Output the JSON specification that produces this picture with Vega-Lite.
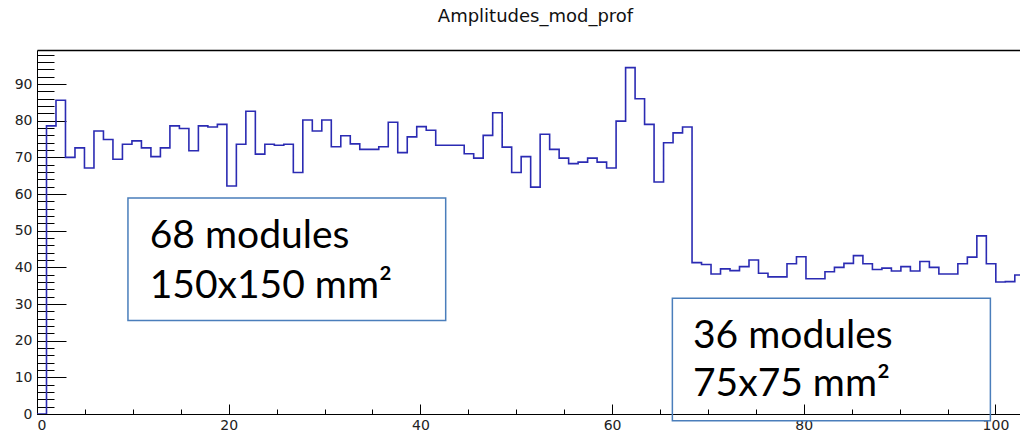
{
  "$schema": "https://vega.github.io/schema/vega-lite/v6.json",
  "width": 983,
  "height": 364,
  "autosize": {"type": "none"},
  "padding": {"left": 37, "top": 50, "right": 0, "bottom": 19},
  "background": "white",
  "config": {
    "view": {"stroke": null},
    "axis": {"grid": false, "title": null, "labelFont": "DejaVu Sans", "labelFontSize": 14, "labelColor": "#222", "domainColor": "#000", "tickColor": "#000"}
  },
  "title": {"text": "Amplitudes_mod_prof", "font": "DejaVu Sans", "fontSize": 18, "fontWeight": "normal", "color": "#111", "offset": 24, "dx": 7},
  "datasets": {
    "hist": [
      {"x": 0, "v": 0}, {"x": 0.9905, "v": 78.6}, {"x": 1.981, "v": 85.6}, {"x": 2.971, "v": 70.0}, {"x": 3.962, "v": 72.6},
      {"x": 4.952, "v": 67.1}, {"x": 5.943, "v": 77.2}, {"x": 6.933, "v": 74.9}, {"x": 7.924, "v": 69.5}, {"x": 8.914, "v": 73.6},
      {"x": 9.905, "v": 74.5}, {"x": 10.895, "v": 72.6}, {"x": 11.886, "v": 70.2}, {"x": 12.876, "v": 72.6}, {"x": 13.867, "v": 78.6},
      {"x": 14.857, "v": 77.9}, {"x": 15.848, "v": 71.8}, {"x": 16.838, "v": 78.6}, {"x": 17.829, "v": 78.3}, {"x": 18.819, "v": 79.0},
      {"x": 19.810, "v": 62.2}, {"x": 20.800, "v": 73.6}, {"x": 21.790, "v": 82.6}, {"x": 22.781, "v": 70.9}, {"x": 23.771, "v": 73.6},
      {"x": 24.762, "v": 73.3}, {"x": 25.752, "v": 73.6}, {"x": 26.743, "v": 65.9}, {"x": 27.733, "v": 80.2}, {"x": 28.724, "v": 77.2},
      {"x": 29.714, "v": 80.2}, {"x": 30.705, "v": 72.9}, {"x": 31.695, "v": 75.9}, {"x": 32.686, "v": 73.7}, {"x": 33.676, "v": 72.2},
      {"x": 34.667, "v": 72.2}, {"x": 35.657, "v": 72.9}, {"x": 36.648, "v": 79.6}, {"x": 37.638, "v": 71.3}, {"x": 38.629, "v": 75.6},
      {"x": 39.619, "v": 78.4}, {"x": 40.610, "v": 77.4}, {"x": 41.600, "v": 73.3}, {"x": 42.590, "v": 73.3}, {"x": 43.581, "v": 73.3},
      {"x": 44.571, "v": 71.0}, {"x": 45.562, "v": 69.8}, {"x": 46.552, "v": 76.0}, {"x": 47.543, "v": 82.2}, {"x": 48.533, "v": 72.8},
      {"x": 49.524, "v": 65.9}, {"x": 50.514, "v": 70.2}, {"x": 51.505, "v": 61.9}, {"x": 52.495, "v": 76.3}, {"x": 53.486, "v": 72.2},
      {"x": 54.476, "v": 69.8}, {"x": 55.467, "v": 68.3}, {"x": 56.457, "v": 68.7}, {"x": 57.448, "v": 69.8}, {"x": 58.438, "v": 68.7},
      {"x": 59.429, "v": 67.1}, {"x": 60.419, "v": 79.9}, {"x": 61.410, "v": 94.5}, {"x": 62.400, "v": 86.0}, {"x": 63.390, "v": 79.0},
      {"x": 64.381, "v": 63.3}, {"x": 65.371, "v": 74.0}, {"x": 66.362, "v": 76.7}, {"x": 67.352, "v": 78.3}, {"x": 68.343, "v": 41.3},
      {"x": 69.333, "v": 40.8}, {"x": 70.324, "v": 38.2}, {"x": 71.314, "v": 39.6}, {"x": 72.305, "v": 39.1}, {"x": 73.295, "v": 40.2},
      {"x": 74.286, "v": 42.0}, {"x": 75.276, "v": 38.4}, {"x": 76.267, "v": 37.4}, {"x": 77.257, "v": 37.4}, {"x": 78.248, "v": 41.0},
      {"x": 79.238, "v": 42.9}, {"x": 80.229, "v": 36.9}, {"x": 81.219, "v": 36.9}, {"x": 82.210, "v": 38.8}, {"x": 83.200, "v": 40.0},
      {"x": 84.190, "v": 41.1}, {"x": 85.181, "v": 43.2}, {"x": 86.171, "v": 41.0}, {"x": 87.162, "v": 39.4}, {"x": 88.152, "v": 39.8},
      {"x": 89.143, "v": 39.0}, {"x": 90.133, "v": 40.2}, {"x": 91.124, "v": 39.0}, {"x": 92.114, "v": 41.6}, {"x": 93.105, "v": 40.0},
      {"x": 94.095, "v": 38.2}, {"x": 95.086, "v": 38.2}, {"x": 96.076, "v": 41.0}, {"x": 97.067, "v": 42.8}, {"x": 98.057, "v": 48.6},
      {"x": 99.048, "v": 41.0}, {"x": 100.038, "v": 36.0}, {"x": 101.029, "v": 36.1}, {"x": 102.019, "v": 37.9}, {"x": 103.010, "v": 37.9}
    ],
    "boxes": [
      {"x": 9.49, "x2": 42.64, "y": 58.94, "y2": 25.5},
      {"x": 66.29, "x2": 99.47, "y": 31.6, "y2": -1.83}
    ],
    "notes": [
      {"x": 11.76, "y": 45.3, "t": "68 modules"},
      {"x": 11.76, "y": 31.7, "t": "150x150 mm²"},
      {"x": 68.44, "y": 18.0, "t": "36 modules"},
      {"x": 68.44, "y": 4.8, "t": "75x75 mm²"}
    ]
  },
  "layer": [
    {
      "data": {"name": "hist"},
      "mark": {"type": "line", "interpolate": "step-after", "color": "#2b2bb3", "strokeWidth": 1.6, "clip": true},
      "encoding": {
        "x": {"field": "x", "type": "quantitative", "scale": {"domain": [0, 102.56], "nice": false, "zero": false},
              "axis": {"orient": "bottom", "values": [0, 20, 40, 60, 80, 100], "ticks": false, "labelPadding": 4, "labelFontSize": 14, "domain": true}},
        "y": {"field": "v", "type": "quantitative", "scale": {"domain": [0, 99.3], "nice": false, "zero": false},
              "axis": {"orient": "left", "values": [0, 10, 20, 30, 40, 50, 60, 70, 80, 90], "ticks": false, "labelPadding": 5, "labelFontSize": 14, "domain": true}}
      }
    },
    {
      "data": {"name": "hist"},
      "mark": {"type": "line", "strokeOpacity": 0},
      "encoding": {
        "x": {"field": "x", "type": "quantitative", "scale": {"domain": [0, 102.56], "nice": false, "zero": false},
              "axis": {"orient": "top", "labels": false, "ticks": false, "domain": true, "domainWidth": 1.5}},
        "y": {"field": "v", "type": "quantitative", "scale": {"domain": [0, 99.3], "nice": false, "zero": false},
              "axis": {"orient": "left", "values": [0, 10, 20, 30, 40, 50, 60, 70, 80, 90], "labels": false, "domain": false, "tickSize": -29}}
      }
    },
    {
      "data": {"name": "hist"},
      "mark": {"type": "line", "strokeOpacity": 0},
      "encoding": {
        "x": {"field": "x", "type": "quantitative", "scale": {"domain": [0, 102.56], "nice": false, "zero": false},
              "axis": {"orient": "bottom", "values": [0, 20, 40, 60, 80, 100], "labels": false, "domain": false, "tickSize": -10}},
        "y": {"field": "v", "type": "quantitative", "scale": {"domain": [0, 99.3], "nice": false, "zero": false},
              "axis": {"orient": "left", "values": [0, 2, 4, 6, 8, 10, 12, 14, 16, 18, 20, 22, 24, 26, 28, 30, 32, 34, 36, 38, 40, 42, 44, 46, 48, 50, 52, 54, 56, 58, 60, 62, 64, 66, 68, 70, 72, 74, 76, 78, 80, 82, 84, 86, 88, 90, 92, 94, 96, 98], "labels": false, "domain": false, "tickSize": -17}}
      }
    },
    {
      "data": {"name": "hist"},
      "mark": {"type": "line", "strokeOpacity": 0},
      "encoding": {
        "x": {"field": "x", "type": "quantitative", "scale": {"domain": [0, 102.56], "nice": false, "zero": false},
              "axis": {"orient": "bottom", "values": [5, 10, 15, 25, 30, 35, 45, 50, 55, 65, 70, 75, 85, 90, 95], "labels": false, "domain": false, "tickSize": -5}},
        "y": {"field": "v", "type": "quantitative", "scale": {"domain": [0, 99.3], "nice": false, "zero": false}, "axis": null}
      }
    },
    {
      "data": {"name": "boxes"},
      "mark": {"type": "rect", "fillOpacity": 0, "stroke": "#4a7ebb", "strokeWidth": 1.5},
      "encoding": {
        "x": {"field": "x", "type": "quantitative", "scale": {"domain": [0, 102.56], "nice": false, "zero": false}, "axis": null},
        "x2": {"field": "x2"},
        "y": {"field": "y", "type": "quantitative", "scale": {"domain": [0, 99.3], "nice": false, "zero": false}, "axis": null},
        "y2": {"field": "y2"}
      }
    },
    {
      "data": {"name": "notes"},
      "mark": {"type": "text", "align": "left", "baseline": "alphabetic", "font": "Lato", "fontSize": 39, "color": "#000"},
      "encoding": {
        "x": {"field": "x", "type": "quantitative", "scale": {"domain": [0, 102.56], "nice": false, "zero": false}, "axis": null},
        "y": {"field": "y", "type": "quantitative", "scale": {"domain": [0, 99.3], "nice": false, "zero": false}, "axis": null},
        "text": {"field": "t"}
      }
    }
  ],
  "resolve": {"axis": {"x": "independent", "y": "independent"}}
}
